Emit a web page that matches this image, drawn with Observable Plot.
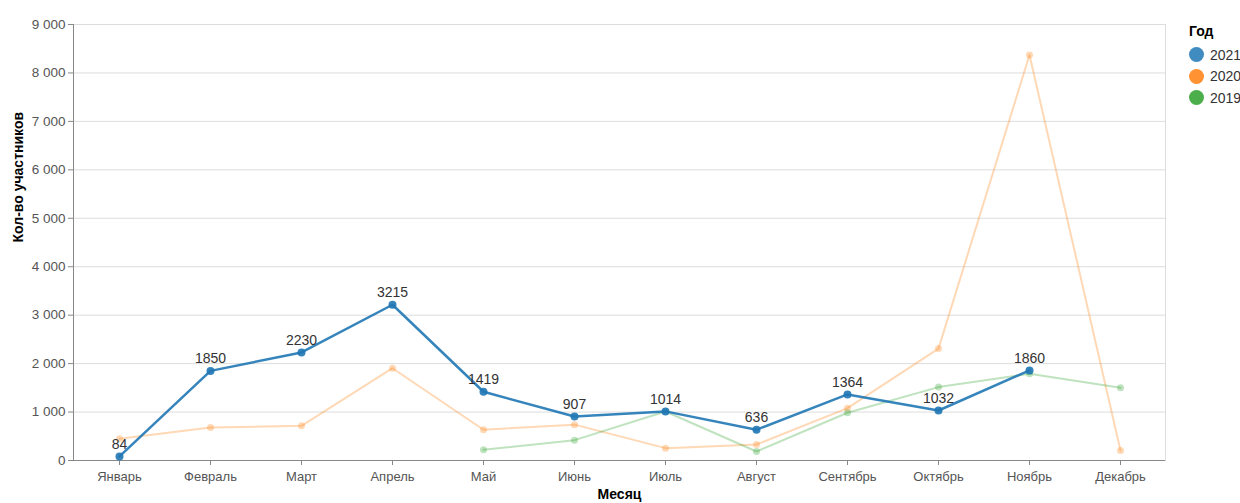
<!DOCTYPE html>
<html>
<head>
<meta charset="utf-8">
<script src="https://cdn.jsdelivr.net/npm/d3@7"></script>
<script src="https://cdn.jsdelivr.net/npm/@observablehq/plot@0.6"></script>
<style>
  body { margin: 0; background: #fff; font-family: "Liberation Sans", Arial, sans-serif; }
  #wrap { position: relative; width: 1240px; height: 503px; overflow: hidden; }
  #legend { position: absolute; left: 1189px; top: 23px; font-size: 14px; color: #333; }
  #legend .title { font-weight: bold; font-size: 14px; color: #000; margin-bottom: 5px; }
  #legend .item { display: flex; align-items: center; height: 21.5px; white-space: nowrap; }
  #legend .sw { width: 15px; height: 15px; border-radius: 50%; margin-right: 6px; opacity: 0.85; }
</style>
</head>
<body>
<div id="wrap"><div id="legend"></div></div>
<script>
const months = ["Январь","Февраль","Март","Апрель","Май","Июнь","Июль","Август","Сентябрь","Октябрь","Ноябрь","Декабрь"];
const years = ["2021","2020","2019"];
const colors = ["#1f77b4","#ff7f0e","#2ca02c"];
const months2021 = months.slice(0, 11);
const values2021 = [84,1850,2230,3215,1419,907,1014,636,1364,1032,1860];
const months2020 = months;
const values2020 = [450,680,715,1905,635,740,255,330,1080,2310,8370,205];
const months2019 = months.slice(4);
const values2019 = [220,420,1012,185,985,1515,1790,1500];
const yTicks = [0,1000,2000,3000,4000,5000,6000,7000,8000,9000];

const toRows = (ms, vs, year) => ms.map((m, i) => ({month: m, value: vs[i], year}));
const d2021 = toRows(months2021, values2021, "2021");
const d2020 = toRows(months2020, values2020, "2020");
const d2019 = toRows(months2019, values2019, "2019");

const fmt = d3.formatLocale({decimal: ",", thousands: " ", grouping: [3], currency: ["", ""]}).format(",");

const chart = Plot.plot({
  width: 1240,
  height: 503,
  marginLeft: 73,
  marginRight: 75,
  marginTop: 24,
  marginBottom: 43,
  style: {fontFamily: "Liberation Sans, Arial, sans-serif", fontSize: "13px", color: "#444", background: "#fff"},
  x: {type: "point", domain: months, padding: 0.5, label: null},
  y: {domain: [0, 9000], label: null},
  color: {domain: years, range: colors},
  marks: [
    Plot.gridY(yTicks, {stroke: "#ddd", strokeOpacity: 1}),
    Plot.frame({stroke: "#ddd"}),
    Plot.ruleY([0], {stroke: "#888"}),
    Plot.frame({anchor: "left", stroke: "#888"}),
    Plot.axisY(yTicks, {tickSize: 5, tickFormat: fmt, stroke: "#888", fill: "#555", fontSize: 13.5, tickPadding: 3}),
    Plot.axisX({tickSize: 5, stroke: "#888", fill: "#555", fontSize: 13, tickPadding: 6}),
    Plot.text(["Кол-во участников"], {frameAnchor: "left", dx: -55, rotate: -90, fontWeight: "bold", fontSize: 14, fill: "#000"}),
    Plot.text(["Месяц"], {frameAnchor: "bottom", dy: 38, fontWeight: "bold", fontSize: 14, fill: "#000"}),
    Plot.line(d2020, {x: "month", y: "value", stroke: "year", strokeWidth: 2, strokeOpacity: 0.3}),
    Plot.dot(d2020, {x: "month", y: "value", fill: "year", r: 3.5, fillOpacity: 0.3}),
    Plot.line(d2019, {x: "month", y: "value", stroke: "year", strokeWidth: 2, strokeOpacity: 0.3}),
    Plot.dot(d2019, {x: "month", y: "value", fill: "year", r: 3.5, fillOpacity: 0.3}),
    Plot.line(d2021, {x: "month", y: "value", stroke: "year", strokeWidth: 2.5, strokeOpacity: 0.9}),
    Plot.dot(d2021, {x: "month", y: "value", fill: "year", r: 4, fillOpacity: 0.9}),
    Plot.text(d2021, {x: "month", y: "value", text: d => String(d.value), dy: -12, fontSize: 14, fill: "#333"})
  ]
});
const wrap = document.getElementById("wrap");
wrap.insertBefore(chart, wrap.firstChild);

const legend = document.getElementById("legend");
const t = document.createElement("div");
t.className = "title"; t.textContent = "Год";
legend.appendChild(t);
years.forEach((y, i) => {
  const it = document.createElement("div"); it.className = "item";
  const sw = document.createElement("span"); sw.className = "sw"; sw.style.background = colors[i];
  const tx = document.createElement("span"); tx.textContent = y;
  it.appendChild(sw); it.appendChild(tx); legend.appendChild(it);
});
</script>
</body>
</html>
